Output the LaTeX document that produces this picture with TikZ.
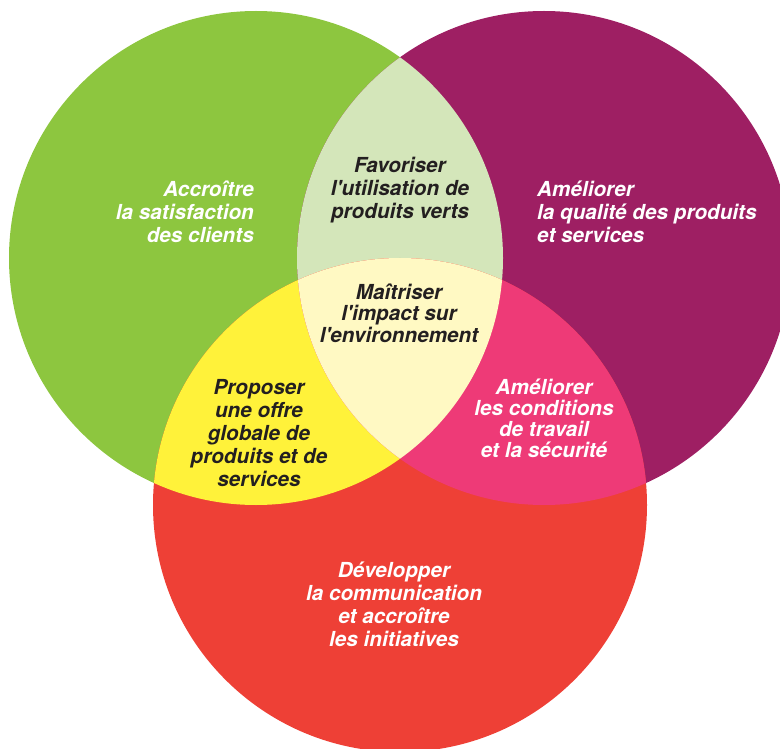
\documentclass[tikz,border=0pt]{standalone}
\usepackage{fontspec}
\setmainfont{TeX Gyre Heros}

% Colours of the diagram
\definecolor{vert}{HTML}{8DC63F}
\definecolor{violet}{HTML}{9E1F63}
\definecolor{rouge}{HTML}{EE4036}
\definecolor{vertpale}{HTML}{D4E6BA}
\definecolor{jaune}{HTML}{FFF23A}
\definecolor{rose}{HTML}{EE3A77}
\definecolor{jaunepale}{HTML}{FFF9C3}
\definecolor{texte}{HTML}{231F20}

\begin{document}
\begin{tikzpicture}[x=1pt, y=-1pt,
  label/.style={font=\fontsize{20.7}{23}\selectfont\bfseries\itshape, inner sep=0pt},
  whitelabel/.style={label, text=white},
  darklabel/.style={label, text=texte}]
% Set the circle radius
\def\rad{247}
\useasboundingbox (0,0) rectangle (780,749);

% Centres of the three circles
\coordinate (cvert) at (256,258);
\coordinate (cviolet) at (544,258);
\coordinate (crouge) at (400,505);

% Draw the three circles
\fill[vert] (cvert) circle (\rad);
\fill[violet] (cviolet) circle (\rad);
\fill[rouge] (crouge) circle (\rad);

% Fill the overlaps
\begin{scope}
\clip (cvert) circle (\rad);
\fill[vertpale] (cviolet) circle (\rad);
\fill[jaune] (crouge) circle (\rad);
\end{scope}
\begin{scope}
\clip (cviolet) circle (\rad);
\fill[rose] (crouge) circle (\rad);
\clip (cvert) circle (\rad);
\fill[jaunepale] (crouge) circle (\rad);
\end{scope}

% Insert the texts
\node[whitelabel, anchor=east, align=right] (satisfaction) at (254,212) {Accroître\\la satisfaction\\des clients};
\node[darklabel, align=center] (produitsverts) at (400,190) {Favoriser\\l\textquotesingle utilisation de\\produits verts};
\node[whitelabel, anchor=west, align=left] (qualite) at (537,212) {Améliorer\\la qualité des produits\\et services};
\node[darklabel, align=center, font=\fontsize{20.7}{21.5}\selectfont\bfseries\itshape] (impact) at (399,313) {Maîtriser\\l\textquotesingle impact sur\\l\textquotesingle environnement};
\node[darklabel, align=center] (offre) at (259,433) {Proposer\\une offre\\globale de\\produits et de\\services};
\node[whitelabel, align=center, font=\fontsize{20.7}{21}\selectfont\bfseries\itshape] (conditions) at (544,418) {Améliorer\\les conditions\\de travail\\et la sécurité};
\node[whitelabel, align=center] (communication) at (394,604) {Développer\\la communication\\et accroître\\les initiatives};
\end{tikzpicture}
\end{document}
